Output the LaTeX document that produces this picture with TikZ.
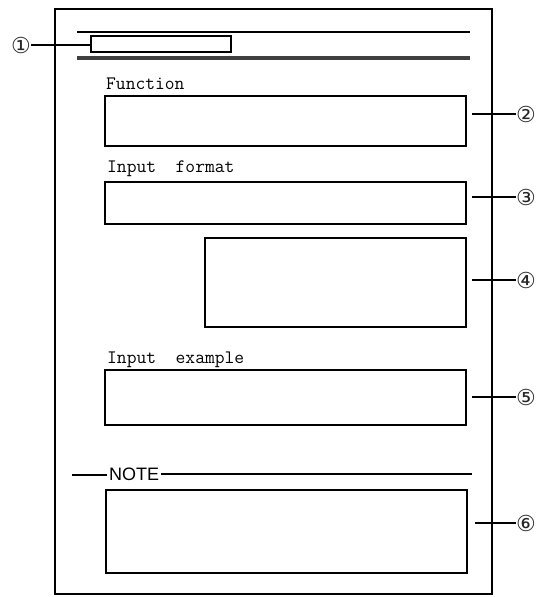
\documentclass[tikz,border=0pt]{standalone}
\usepackage{fontspec}
\newfontfamily\symfont{DejaVu Sans}
\newfontfamily\notefont{Liberation Sans}
\usetikzlibrary{positioning}

\begin{document}
\begin{tikzpicture}[
  x=1bp, y=-1bp,
  field/.style={draw, line width=1.6bp, inner sep=0pt, outer sep=0pt, anchor=north west},
  caption/.style={anchor=base west, inner sep=0pt, font=\ttfamily\fontsize{19bp}{22bp}\selectfont},
  callout/.style={font=\symfont\fontsize{22bp}{24bp}\selectfont, inner sep=0pt, text=black!85},
  lead/.style={line width=1.3bp}
]
  \useasboundingbox (0,0) rectangle (538,597);
  % sheet
  \node[draw, line width=1.8bp, inner sep=0pt, anchor=north west,
    minimum width=437bp, minimum height=585bp] (sheet) at (54,8) {};
  % heading
  \coordinate (rulel) at (77,32);
  \coordinate (ruler) at (470,32);
  \draw[line width=1.4bp] (rulel) -- (ruler);
  \coordinate (barl) at (77,58);
  \coordinate (barr) at (470,58);
  \draw[line width=4bp, black!75] (barl) -- (barr);
  \node[field, line width=1.4bp, minimum width=140bp, minimum height=16bp] (title) at (91,36) {};
  % fields
  \node[caption] (funtxt) at (106,90) {Function};
  \node[field, minimum width=361bp, minimum height=50bp] (fun) at (105,96) {};
  \node[caption] (fmttxt) at (107,173) {Input\ \ format};
  \node[field, minimum width=361bp, minimum height=42bp] (fmt) at (105,182) {};
  \node[field, minimum width=261bp, minimum height=89bp] (extra) at (205,238) {};
  \node[caption] (extxt) at (107,363) {Input\ \ example};
  \node[field, minimum width=361bp, minimum height=55bp] (ex) at (105,370) {};
  % note
  \node[anchor=base west, inner sep=2bp, font=\notefont\fontsize{18bp}{20bp}\selectfont] (note) at (107,480) {NOTE};
  \coordinate (notel) at (72,475);
  \coordinate (noter) at (472,474);
  \draw[lead] (notel) -- (notel -| note.west);
  \draw[lead] (note.east |- noter) -- (noter);
  \node[field, minimum width=361bp, minimum height=83bp] (memo) at (106,490) {};
  % callouts
  \node[callout] (c1) at (21,45) {①};
  \node[callout] (c2) at (526,114) {②};
  \node[callout] (c3) at (526,197) {③};
  \node[callout] (c4) at (526,280) {④};
  \node[callout] (c5) at (526,397) {⑤};
  \node[callout] (c6) at (526,523) {⑥};
  \draw[lead] (c1) -- (title.west |- c1);
  \coordinate (p2) at (472,114);
  \coordinate (p3) at (472,197);
  \coordinate (p4) at (472,280);
  \coordinate (p5) at (472,397);
  \coordinate (p6) at (475,523);
  \foreach \i in {2,...,6}
    \draw[lead] (p\i) -- (c\i);
\end{tikzpicture}
\end{document}
